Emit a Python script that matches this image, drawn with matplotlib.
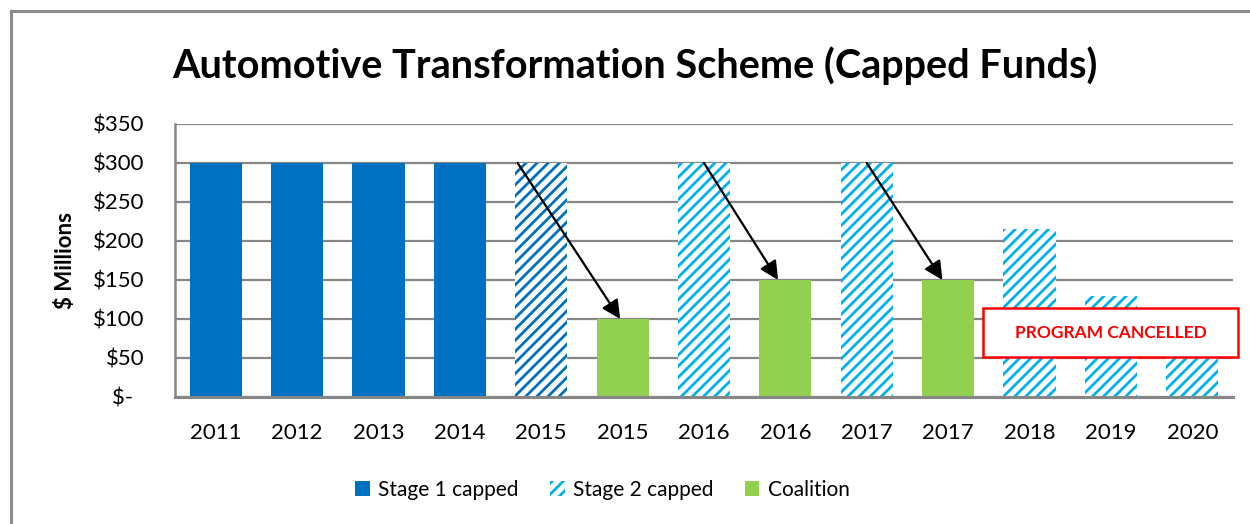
import matplotlib
matplotlib.use("Agg")
import matplotlib.pyplot as plt
from matplotlib.patches import Rectangle, Patch
import numpy as np

plt.rcParams['font.family'] = ['Lato', 'DejaVu Sans']
plt.rcParams['hatch.linewidth'] = 2.0

categories = ['2011', '2012', '2013', '2014', '2015', '2015', '2016', '2016',
              '2017', '2017', '2018', '2019', '2020']
stage1 = [300, 300, 300, 300, None, None, None, None, None, None, None, None, None]
stage2 = [None, None, None, None, 300, None, 300, None, 300, None, 215, 130, 50]
coalition = [None, None, None, None, None, 100, None, 150, None, 150, None, None, None]
yticks = [0, 50, 100, 150, 200, 250, 300, 350]
ytick_labels = ['$-  ', '$50', '$100', '$150', '$200', '$250', '$300', '$350']

C_DARK = '#0070C0'
C_LIGHT = '#00B0F0'
C_GREEN = '#92D050'
GRID = '#868686'

fig = plt.figure(figsize=(12.5, 5.24), dpi=100)
ax = fig.add_axes([0.14, 0.2424, 0.8464, 0.521])

x = np.arange(len(categories))
w = 0.64

def vals(lst):
    return np.array([np.nan if v is None else v for v in lst], dtype=float)

s1 = vals(stage1)
s2 = vals(stage2)
co = vals(coalition)

ax.bar(x, s1, width=w, color=C_DARK, zorder=2)
for i, v in enumerate(s2):
    if np.isnan(v):
        continue
    col = C_DARK if i == 4 else C_LIGHT
    ax.bar(i, v, width=w, facecolor='white', edgecolor=col, hatch='///',
           linewidth=0, zorder=2)
ax.bar(x, co, width=w, color=C_GREEN, zorder=2)

ax.set_xlim(-0.5, len(categories) - 0.5)
ax.set_ylim(0, 350)
ax.set_yticks(yticks)
ax.set_yticklabels(ytick_labels)
ax.set_xticks(x)
ax.set_xticklabels(categories)
ax.tick_params(axis='both', length=0, labelsize=16)
ax.tick_params(axis='x', pad=19)
ax.tick_params(axis='y', pad=22)
ax.yaxis.grid(True, color=GRID, linewidth=1.6, zorder=0)
ax.set_axisbelow(True)
for s in ['top', 'right']:
    ax.spines[s].set_visible(False)
ax.spines['left'].set_color(GRID)
ax.spines['left'].set_linewidth(1.8)
ax.spines['bottom'].set_color(GRID)
ax.spines['bottom'].set_linewidth(2.2)
ax.spines['bottom'].set_zorder(3)

ax.set_ylabel('$ Millions', fontsize=16, fontweight='bold', labelpad=12)

# arrows from Stage 2 cap to Coalition funding
arrow_pairs = [(4, 5, -0.29, -0.03), (6, 7, 0.0, -0.09), (8, 9, 0.0, -0.07)]
for a, b, dx0, dx1 in arrow_pairs:
    ax.annotate('', xy=(b + dx1, co[b]), xytext=(a + dx0, s2[a]),
                arrowprops=dict(arrowstyle='-|>', mutation_scale=28,
                                lw=1.6, color='black', shrinkA=0, shrinkB=0),
                zorder=4)

# Program cancelled box
rect = Rectangle((9.43, 51), 3.13, 63, facecolor='white', edgecolor='#FF0000',
                 linewidth=1.8, zorder=5, clip_on=False)
ax.add_patch(rect)
ax.text(9.43 + 3.13 / 2, 82, 'PROGRAM CANCELLED', color='#FF0000',
        fontsize=12.5, fontweight='bold', ha='center', va='center', zorder=6)

fig.suptitle('Automotive Transformation Scheme (Capped Funds)',
             fontsize=28.5, fontweight='bold', x=0.508, y=0.912)

handles = [Patch(facecolor=C_DARK, edgecolor=C_DARK, linewidth=0),
           Patch(facecolor='white', edgecolor=C_LIGHT, hatch='///', linewidth=0),
           Patch(facecolor=C_GREEN, edgecolor=C_GREEN, linewidth=0)]
fig.legend(handles, ['Stage 1 capped', 'Stage 2 capped', 'Coalition'],
           loc='center', bbox_to_anchor=(0.482, 0.065), ncol=3, frameon=False,
           fontsize=15, handlelength=0.7, handleheight=0.7, handletextpad=0.4,
           columnspacing=1.5)

# outer chart frame
frame = Rectangle((11 / 1250, -0.05), 1.1, 1 - 11 / 524 + 0.05,
                  transform=fig.transFigure, fill=False, edgecolor='#8C8C8C',
                  linewidth=2.2, clip_on=False)
fig.patches.append(frame)

fig.savefig('out.png', dpi=100)
